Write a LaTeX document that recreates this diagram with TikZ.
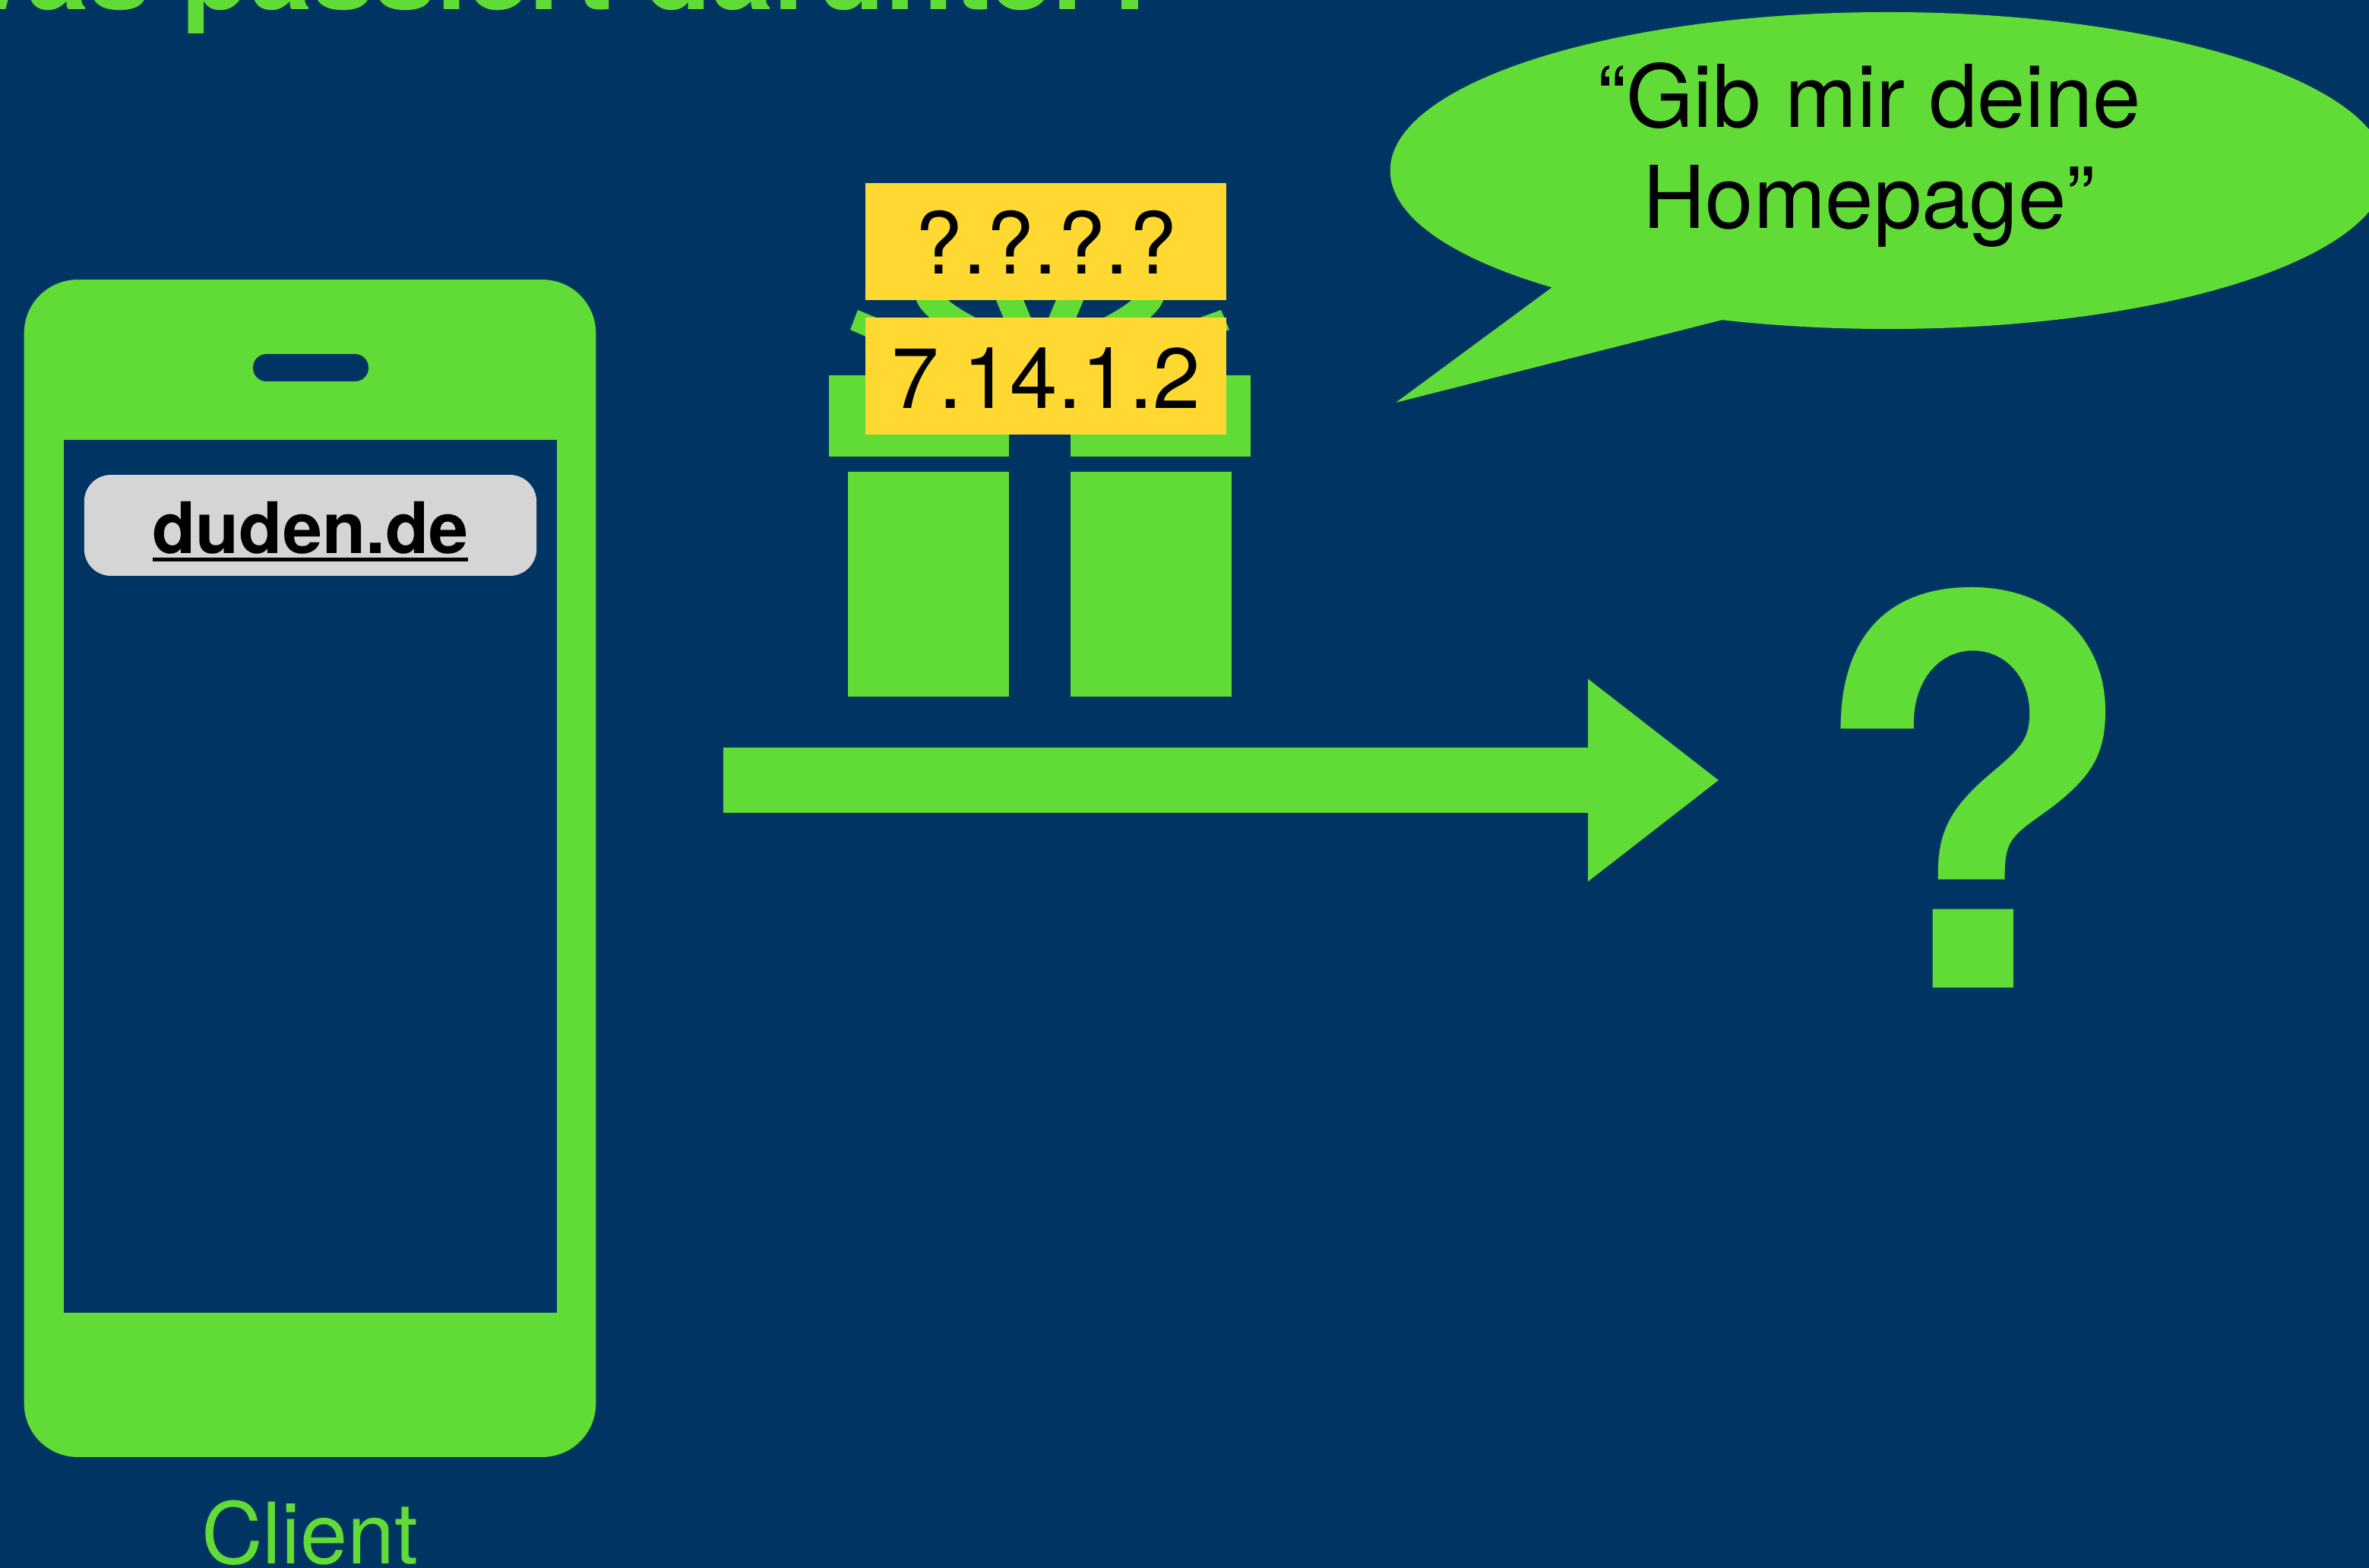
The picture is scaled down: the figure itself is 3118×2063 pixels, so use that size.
\documentclass[tikz,border=0pt]{standalone}
\usepackage{fontspec}
\setmainfont{TeX Gyre Heros}
\usetikzlibrary{shapes.geometric, positioning, arrows.meta}

\definecolor{deckblue}{HTML}{003462}
\definecolor{deckgreen}{HTML}{61DC37}
\definecolor{deckyellow}{HTML}{FFD932}
\definecolor{urlgray}{HTML}{D5D5D5}

\newcommand{\thickuline}[1]{\setbox0=\hbox{#1}\rlap{\rule[-3.1pt]{\wd0}{1.4pt}}\box0}

\tikzset{
    greenbox/.style={fill=deckgreen, inner sep=0pt, outer sep=0pt},
    ipbox/.style={fill=deckyellow, inner sep=0pt, outer sep=0pt, text=black, text width=135.1pt, align=center, text depth=9.8pt, text height=34pt, font=\fontsize{32}{36}\selectfont},
    bowline/.style={draw=deckgreen, line width=9.5pt},
    bigarrow/.style={draw=deckgreen, line width=24.5pt, -{Triangle[length=49.2pt, width=72.5pt]}}
}

\begin{document}
\begin{tikzpicture}[x=0.01cm, y=-0.01cm]

        \path[use as bounding box] (0,0) rectangle (3118,2063);
        \fill[deckblue] (-20,-20) rectangle (3138,2083);

        % title, cut off by the page
        \node[anchor=base west, inner sep=0pt, text=deckgreen, font=\bfseries\fontsize{41.8}{48}\selectfont] (title) at (-100,12) {Was passiert darunter?};

        % phone
        \node[greenbox, rounded corners=20pt, minimum width=214pt, minimum height=440.7pt] (phone) at (408,1143) {};
        \node[fill=deckblue, inner sep=0pt, outer sep=0pt, minimum width=184.6pt, minimum height=326.9pt] (screen) at (408.5,1153.5) {};
        \node[fill=deckblue, inner sep=0pt, rounded corners=5pt, minimum width=43.2pt, minimum height=10.2pt] (speaker) at (409,484) {};
        \node[fill=urlgray, inner sep=0pt, outer sep=0pt, rounded corners=10pt, text=black, text width=169.3pt, align=center, text height=29.3pt, text depth=8.5pt, font=\bfseries\fontsize{26.6}{30}\selectfont] (url) at (408.5,691.5) {\thickuline{duden.de}};
        \node[inner sep=0pt, text=deckgreen, font=\fontsize{31.8}{36}\selectfont, below=16pt of phone] (client) {Client};

        % gift: ribbon first, the address labels lie on top of it
        \fill[deckgreen] (1129,408) -- (1119,434) -- (1160,452) -- (1170,425) -- cycle;
        \fill[deckgreen] (1607,408) -- (1618,434) -- (1570,452) -- (1560,425) -- cycle;
        \draw[bowline] (1352,450) -- (1329,395) .. controls (1315,360) and (1300,300) .. (1270,300) .. controls (1220,300) and (1210,375) .. (1224.5,395) .. controls (1240,415) and (1270,430) .. (1300,445);
        \draw[bowline] (1385,450) -- (1408,395) .. controls (1422,360) and (1437,300) .. (1467,300) .. controls (1517,300) and (1527,375) .. (1512.5,395) .. controls (1497,415) and (1467,430) .. (1437,445);
        \node[greenbox, minimum width=67.4pt, minimum height=30.4pt] (lidleft) at (1209.5,547.5) {};
        \node[greenbox, minimum width=67.4pt, minimum height=30.4pt] (lidright) at (1527,547.5) {};
        \node[greenbox, minimum width=60.5pt, minimum height=84.2pt] (boxleft) at (1222,769) {};
        \node[greenbox, minimum width=60.5pt, minimum height=84.2pt] (boxright) at (1515,769) {};
        \node[ipbox] (ipunknown) at (1376.5,318) {?.?.?.?};
        \node[ipbox] (ipclient) at (1376.5,495) {7.14.1.2};

        % speech bubble
        \node[ellipse, fill=deckgreen, inner sep=0pt, outer sep=0pt, minimum width=372.7pt, minimum height=118.6pt] (bubble) at (2485,224.5) {};
        \coordinate (tailtip) at (1837,530);
        \fill[deckgreen] (2043,378) -- (tailtip) -- (2267,421) -- (bubble.center) -- cycle;
        \node[inner sep=0pt, text=black, align=center, font=\fontsize{32.4}{37.8}\selectfont] (request) at (2460,204) {“Gib mir deine\\Homepage”};

        % arrow and unknown target
        \coordinate (arrowstart) at (952,1027);
        \coordinate (arrowend) at (2263,1027);
        \draw[bigarrow] (arrowstart) -- (arrowend);
        \node[anchor=base, inner sep=0pt, text=deckgreen, font=\bfseries\fontsize{201.5}{220}\selectfont] (target) at (2597,1300) {?};

\end{tikzpicture}
\end{document}
